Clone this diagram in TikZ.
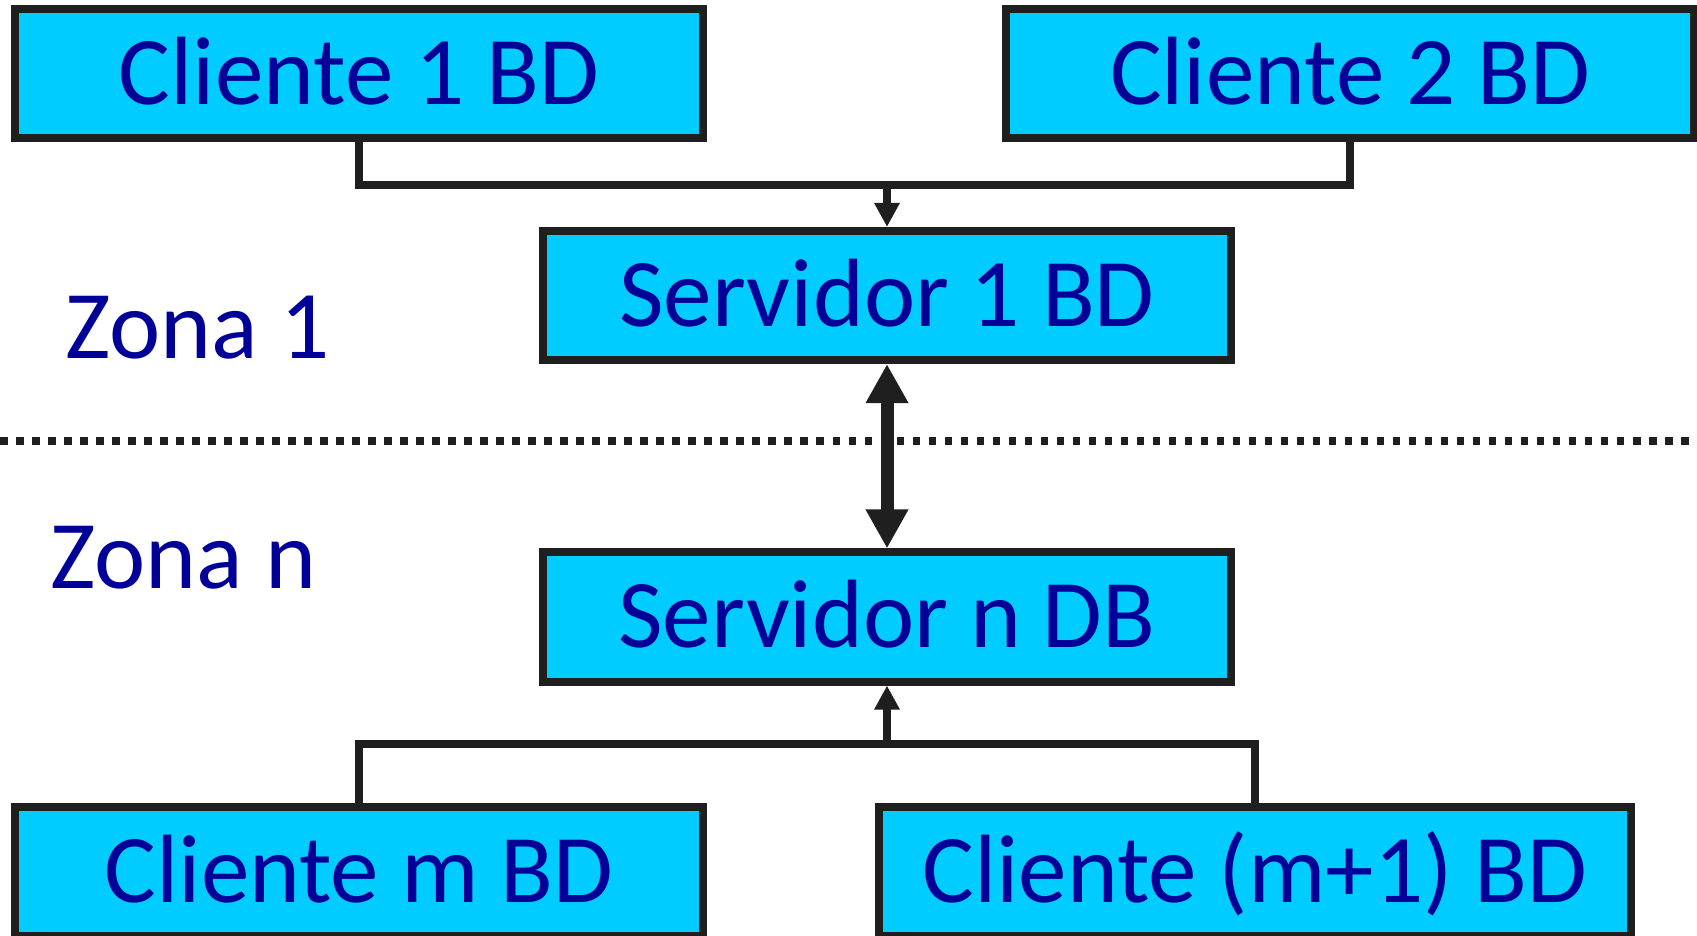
\documentclass[tikz,border=0pt]{standalone}
\usepackage{fontspec}
\setmainfont{Carlito}
\usetikzlibrary{arrows.meta}
\definecolor{cielo}{HTML}{00CCFF}
\definecolor{tinta}{HTML}{000099}
\definecolor{borde}{HTML}{1F1F1F}

\begin{document}
\begin{tikzpicture}[x=0.01cm, y=-0.01cm,
  %%Configuración
  caja/.style = {draw=borde, line width=0.08cm, fill=cielo, text=tinta,
    inner sep=0pt, minimum width=6.87cm, minimum height=1.29cm,
    text height=0.61cm, text depth=0pt, font=\fontsize{27.6}{32}\selectfont},
  zona/.style = {text=tinta, inner sep=0pt, anchor=base,
    font=\fontsize{27.6}{32}\selectfont},
  enlace/.style = {draw=borde, line width=0.08cm},
  flecha/.style = {enlace, -{Triangle[length=0.24cm, width=0.24cm]}},
  flechadoble/.style = {draw=borde, line width=0.13cm,
    {Triangle[length=0.39cm, width=0.40cm]}-{Triangle[length=0.39cm, width=0.40cm]}},
  limite/.style = {draw=borde, line width=0.08cm, dash pattern=on 0.075cm off 0.085cm}
]
\useasboundingbox (0,0) rectangle (1697,935);
\clip (0,0) rectangle (1697,935);

%%Nodos
\node[caja] (c1) at (359,73.5) {Cliente 1 BD};
\node[caja] (c2) at (1350,73.5) {Cliente 2 BD};
\node[caja] (srv1) at (887,295.5) {Servidor 1 BD};
\node[caja] (srvn) at (887,617) {Servidor n DB};
\node[caja] (cm) at (359,871.5) {Cliente m BD};
\node[caja, minimum width=7.52cm] (cm1) at (1255,871.5) {Cliente (m+1) BD};

\node[zona] (z1) at (197.5,358) {Zona 1};
\node[zona] (zn) at (183.5,588) {Zona n};

%%Conexiones
\coordinate (bus1) at (887,185);
\coordinate (busn) at (887,744);
\coordinate (izq) at (0,440.5);
\coordinate (der) at (1697,440.5);

\draw[limite] (izq) -- (der);
\draw[enlace] (c1.south) |- (c2.south |- bus1) -- (c2.south);
\draw[flecha] (bus1) -- (srv1.north);
\draw[enlace] (cm.north) |- (cm1.north |- busn) -- (cm1.north);
\draw[flecha] (busn) -- (srvn.south);
\draw[flechadoble] (srv1.south) -- (srvn.north);
\end{tikzpicture}
\end{document}
